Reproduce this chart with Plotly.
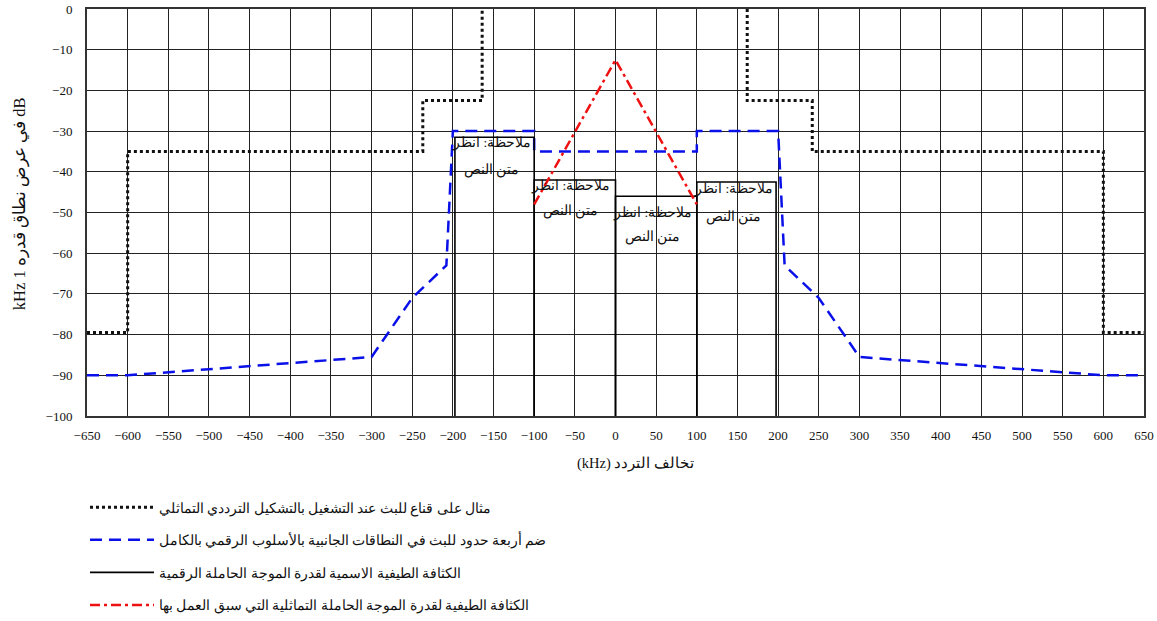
import plotly.graph_objects as go

# ---- data (kHz, dB) ----
mask_x = [-650, -600, -600, -237, -237, -164, -164, None, 162, 162, 242, 242, 600, 600, 650]
mask_y = [-79.5, -79.5, -35, -35, -22.5, -22.5, 0, None, 0, -22.5, -22.5, -35, -35, -79.5, -79.5]

ibo_x = [-650, -600, -300, -250, -208, -200, -100, -100, 100, 100, 200, 208, 250, 300, 600, 650]
ibo_y = [-90, -90, -85.5, -71, -63, -30, -30, -35, -35, -30, -30, -63, -71, -85.5, -90, -90]

box_left = [-197.5, -100, 0, 100]
box_right = [-100, 0, 100, 197.5]
box_top = [-31.5, -42, -46, -42.5]
box_bottom = -100

analog_x = [-100, 0, 100]
analog_y = [-48, -12.5, -48]

note_line1 = "ملاحظة: انظر"
note_line2 = "متن النص"
note_x = [-152, -55, 45, 145]
note_y1 = [-33, -43.5, -50, -44.2]
note_y2 = [-39.6, -49.6, -56, -51.1]

names = [
    "مثال على قناع للبث عند التشغيل بالتشكيل الترددي التماثلي",
    "ضم أربعة حدود للبث في النطاقات الجانبية بالأسلوب الرقمي بالكامل",
    "الكثافة الطيفية الاسمية لقدرة الموجة الحاملة الرقمية",
    "الكثافة الطيفية لقدرة الموجة الحاملة التماثلية التي سبق العمل بها",
]

x_ticks = list(range(-650, 651, 50))
y_ticks = list(range(-100, 1, 10))

x_title = "(kHz) تخالف التردد"
y_title = "kHz 1 في عرض نطاق قدره dB"

# build box outlines from the box arrays
bx, by = [], []
for l, r, t in zip(box_left, box_right, box_top):
    bx += [l, l, r, r, None]
    by += [box_bottom, t, t, box_bottom, None]

serif = "Liberation Serif, DejaVu Serif, serif"

fig = go.Figure()
fig.add_trace(go.Scatter(x=mask_x, y=mask_y, mode="lines", name=names[0], legendgroup="a",
                         line=dict(color="#111111", width=3, dash="3px,3px"), connectgaps=False))
fig.add_trace(go.Scatter(x=ibo_x, y=ibo_y, mode="lines", name=names[1], legendgroup="b",
                         line=dict(color="#0a10e8", width=2.5, dash="12px,7px")))
fig.add_trace(go.Scatter(x=bx, y=by, mode="lines", name=names[2], legendgroup="c",
                         line=dict(color="#000000", width=1.6), connectgaps=False))
fig.add_trace(go.Scatter(x=analog_x, y=analog_y, mode="lines", name=names[3], legendgroup="d",
                         line=dict(color="#ee1111", width=2.5, dash="10px,4px,3px,4px")))

for xx, y1, y2 in zip(note_x, note_y1, note_y2):
    fig.add_annotation(x=xx, y=y1, text=note_line1, showarrow=False,
                       font=dict(family=serif, size=13.5, color="#111"))
    fig.add_annotation(x=xx, y=y2, text=note_line2, showarrow=False,
                       font=dict(family=serif, size=13.5, color="#111"))

fig.add_annotation(xref="paper", yref="paper", x=0.519, y=-0.1155, xanchor="center", yanchor="middle",
                   text=x_title, showarrow=False, font=dict(family=serif, size=14.5, color="#111"))
fig.add_annotation(xref="paper", yref="paper", x=-0.0634, y=0.523, xanchor="center", yanchor="middle",
                   text=y_title, textangle=-90,
                   showarrow=False, font=dict(family=serif, size=16.5, color="#111"))

fig.update_layout(
    width=1157, height=621,
    margin=dict(l=87, r=13, t=9, b=205, autoexpand=False),
    paper_bgcolor="white", plot_bgcolor="white",
    showlegend=True,
    legend=dict(x=-0.0019, y=-0.1867, xanchor="left", yanchor="top",
                font=dict(family=serif, size=13.5, color="#111"),
                tracegroupgap=12, itemwidth=64, bgcolor="rgba(0,0,0,0)"),
    font=dict(family=serif, color="#111"),
)
fig.update_xaxes(range=[-650, 650], tickvals=x_ticks, showgrid=True, gridcolor="#222", gridwidth=1,
                 zeroline=False, showline=True, mirror=True, linecolor="#333", linewidth=2,
                 ticks="", ticklabelstandoff=6, tickfont=dict(family=serif, size=13, color="#111"))
fig.update_yaxes(range=[-100, 0], tickvals=y_ticks, showgrid=True, gridcolor="#222", gridwidth=1,
                 zeroline=False, showline=True, mirror=True, linecolor="#333", linewidth=2,
                 ticks="", ticklabelstandoff=10, tickfont=dict(family=serif, size=13, color="#111"))

fig.write_html("out.html", config={"displayModeBar": False},
               post_script="document.body.style.margin='0';")
